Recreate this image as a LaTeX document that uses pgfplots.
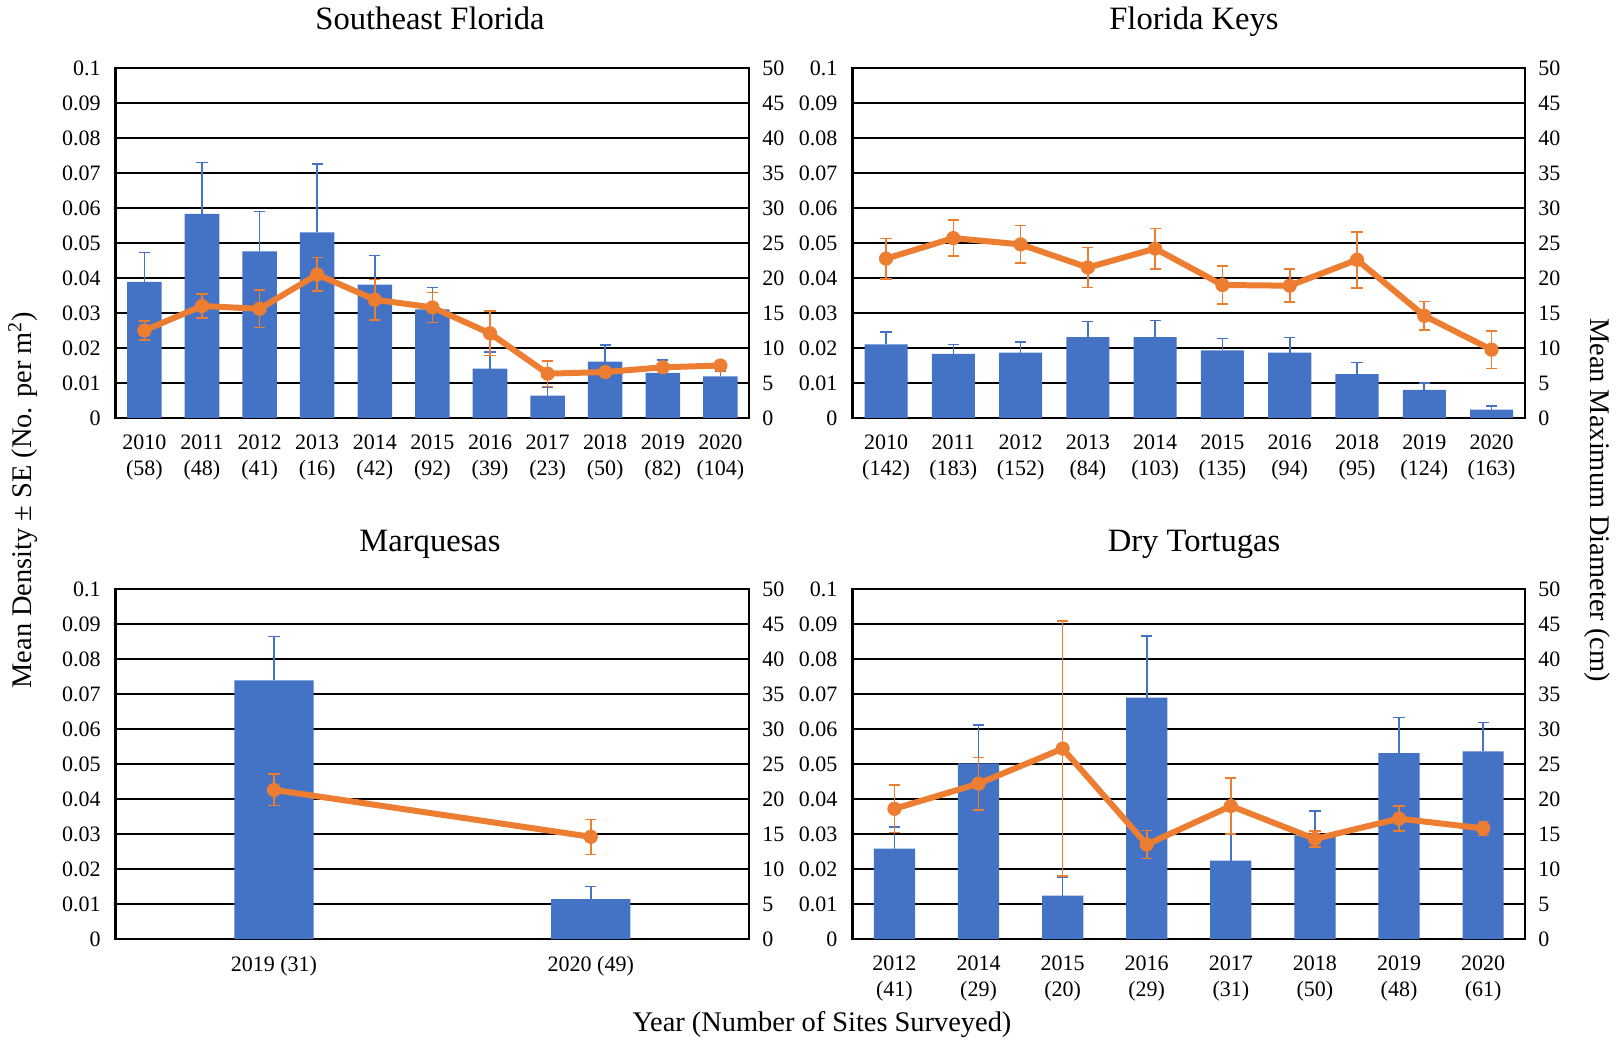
\documentclass[border=0pt]{standalone}
\usepackage{pgfplots}
\usepackage{pgfplotstable}
\usepackage{fontspec}
\setmainfont{Liberation Serif}
\pgfplotsset{compat=1.18}
\definecolor{myblue}{HTML}{4472C4}
\definecolor{myorange}{HTML}{ED7D31}

\pgfplotstableread{
x d de m me
0 0.0389 0.0084 12.5 1.35
1 0.0583 0.0147 16.0 1.7
2 0.0476 0.0114 15.6 2.7
3 0.0530 0.0196 20.5 2.4
4 0.0381 0.0083 16.9 2.9
5 0.0310 0.0063 15.8 2.15
6 0.0141 0.0047 12.1 3.2
7 0.0064 0.0024 6.33 1.85
8 0.0161 0.0047 6.57 0.5
9 0.0129 0.0036 7.24 0.4
10 0.0119 0.0016 7.5 0.3
}\sef
\pgfplotstableread{
x d de m me
0 0.0210 0.0036 22.76 2.9
1 0.0183 0.0027 25.7 2.55
2 0.0187 0.0030 24.8 2.7
3 0.0231 0.0045 21.5 2.85
4 0.0231 0.0048 24.2 2.9
5 0.0193 0.0034 19.0 2.7
6 0.0187 0.0043 18.9 2.35
7 0.0125 0.0033 22.6 4.0
8 0.0080 0.0020 14.6 2.05
9 0.0024 0.0011 9.76 2.7
}\fk
\pgfplotstableread{
x d de m me
0 0.0739 0.0125 21.3 2.25
1 0.0114 0.0036 14.6 2.5
}\mq
\pgfplotstableread{
x d de m me
0 0.0258 0.0062 18.6 3.4
1 0.0502 0.0110 22.2 3.75
2 0.0124 0.0053 27.2 18.2
3 0.0690 0.0175 13.5 2.0
4 0.0224 0.0075 19.0 4.0
5 0.0296 0.0069 14.3 1.15
6 0.0531 0.0102 17.2 1.8
7 0.0536 0.0083 15.8 1.0
}\dt

\pgfplotsset{
  base/.style={scale only axis, height=175pt,
    major tick length=0pt,
    tick label style={font=\fontsize{11}{13}\selectfont},
    /pgf/number format/assume math mode=true},
  densaxis/.style={base,
    ymin=0, ymax=0.1,
    ytick={0,0.01,0.02,0.03,0.04,0.05,0.06,0.07,0.08,0.09,0.1},
    scaled y ticks=false,
    yticklabel style={/pgf/number format/fixed, /pgf/number format/precision=2},
    ytick pos=left, xtick pos=bottom,
    xtick=data,
    xticklabel style={align=center},
    ymajorgrids, major grid style={black, line width=1.2pt},
    axis line style={black, line width=1.1pt},
    yticklabel style={xshift=-4pt},
    xticklabel style={yshift=-5pt},
  },
  diamaxis/.style={base,
    ymin=0, ymax=50, ytick={0,5,...,50},
    ytick pos=right, hide x axis,
    axis line style={draw=none},
    yticklabel style={xshift=3pt},
  },
  bars/.style={ybar, fill=myblue, draw=none,
    error bars/.cd, y dir=plus, y explicit,
    error bar style={line width=0.8pt, myblue},
    error mark options={rotate=90, mark size=2.8pt, line width=0.8pt, myblue},
    /pgfplots/.cd},
  diamline/.style={color=myorange, line width=3pt, mark=*, mark size=3.3pt,
    mark options={solid, fill=myorange, line width=0.5pt},
    error bars/.cd, y dir=both, y explicit,
    error bar style={line width=0.8pt, myorange},
    error mark options={rotate=90, mark size=2.8pt, line width=0.8pt, myorange},
    /pgfplots/.cd},
}

\begin{document}
\begin{tikzpicture}
\useasboundingbox (0,0) rectangle (809pt,520pt);

% Southeast Florida
\begin{axis}[densaxis, at={(57.8pt,311pt)}, anchor=south west, width=316.8pt,
  xmin=-0.5, xmax=10.5,
  xticklabels={{2010\\(58)},{2011\\(48)},{2012\\(41)},{2013\\(16)},{2014\\(42)},{2015\\(92)},{2016\\(39)},{2017\\(23)},{2018\\(50)},{2019\\(82)},{2020\\(104)}}]
\addplot[bar width=0.6, bars] table[x=x, y=d, y error=de] {\sef};
\end{axis}
\begin{axis}[diamaxis, at={(57.8pt,311pt)}, anchor=south west, width=316.8pt,
  xmin=-0.5, xmax=10.5]
\addplot[diamline] table[x=x, y=m, y error=me] {\sef};
\end{axis}

% Florida Keys
\begin{axis}[densaxis, at={(426.2pt,311pt)}, anchor=south west, width=336.4pt,
  xmin=-0.5, xmax=9.5,
  xticklabels={{2010\\(142)},{2011\\(183)},{2012\\(152)},{2013\\(84)},{2014\\(103)},{2015\\(135)},{2016\\(94)},{2018\\(95)},{2019\\(124)},{2020\\(163)}}]
\addplot[bar width=0.64, bars] table[x=x, y=d, y error=de] {\fk};
\end{axis}
\begin{axis}[diamaxis, at={(426.2pt,311pt)}, anchor=south west, width=336.4pt,
  xmin=-0.5, xmax=9.5]
\addplot[diamline] table[x=x, y=m, y error=me] {\fk};
\end{axis}

% Marquesas
\begin{axis}[densaxis, at={(57.8pt,50.5pt)}, anchor=south west, width=316.8pt,
  xmin=-0.5, xmax=1.5,
  xticklabels={{2019 (31)},{2020 (49)}}]
\addplot[bar width=0.25, bars] table[x=x, y=d, y error=de] {\mq};
\end{axis}
\begin{axis}[diamaxis, at={(57.8pt,50.5pt)}, anchor=south west, width=316.8pt,
  xmin=-0.5, xmax=1.5]
\addplot[diamline] table[x=x, y=m, y error=me] {\mq};
\end{axis}

% Dry Tortugas
\begin{axis}[densaxis, at={(426.2pt,50.5pt)}, anchor=south west, width=336.4pt,
  xmin=-0.5, xmax=7.5,
  xticklabels={{2012\\(41)},{2014\\(29)},{2015\\(20)},{2016\\(29)},{2017\\(31)},{2018\\(50)},{2019\\(48)},{2020\\(61)}}]
\addplot[bar width=0.49, bars] table[x=x, y=d, y error=de] {\dt};
\end{axis}
\begin{axis}[diamaxis, at={(426.2pt,50.5pt)}, anchor=south west, width=336.4pt,
  xmin=-0.5, xmax=7.5]
\addplot[diamline] table[x=x, y=m, y error=me] {\dt};
\end{axis}

% titles and labels
\node[font=\fontsize{16.3}{19}\selectfont, anchor=base] at (215pt,505pt) {Southeast Florida};
\node[font=\fontsize{16.3}{19}\selectfont, anchor=base] at (597pt,505pt) {Florida Keys};
\node[font=\fontsize{16.3}{19}\selectfont, anchor=base] at (215pt,244pt) {Marquesas};
\node[font=\fontsize{16.3}{19}\selectfont, anchor=base] at (597pt,244pt) {Dry Tortugas};
\node[font=\fontsize{14.2}{16}\selectfont, rotate=90] at (11.5pt,270pt) {Mean Density ± SE (No. per m\textsuperscript{2})};
\node[font=\fontsize{14.2}{16}\selectfont, rotate=-90] at (798.5pt,270pt) {Mean Maximum Diameter (cm)};
\node[font=\fontsize{14.2}{16}\selectfont] at (411pt,7.8pt) {Year (Number of Sites Surveyed)};
\end{tikzpicture}
\end{document}
